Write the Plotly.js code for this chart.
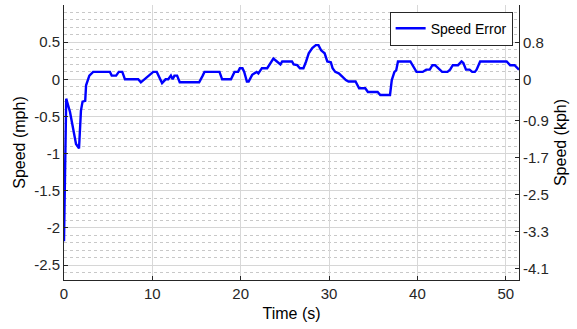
<!DOCTYPE html>
<html>
<head>
<meta charset="utf-8">
<script src="https://cdn.plot.ly/plotly-3.0.1.min.js"></script>
<style>html,body{margin:0;padding:0;background:#fff;}#chart{width:577px;height:329px;}</style>
</head>
<body>
<div id="chart"></div>
<script>
// Time (s)
const timeS = [0, 0.25, 0.68, 1.06, 1.36, 1.7, 1.92, 2.1, 2.4, 2.5, 2.87, 3.3,
  5.2, 5.4, 5.9, 6.2, 6.6, 6.9, 8.4, 8.7, 9.1, 9.6, 10.1, 10.5, 11.1, 11.5, 11.8,
  12.1, 12.3, 12.5, 12.8, 13.1, 15.3, 15.7, 15.9, 17.6, 17.9, 18.9, 19.3, 19.7,
  19.9, 20.2, 20.4, 20.7, 20.9, 21.3, 21.6, 21.8, 22.0, 22.2, 22.4, 23.0, 23.4,
  23.7, 24.1, 24.5, 24.7, 24.9, 25.8, 26.0, 26.4, 26.7, 27.1, 27.4, 27.7, 28.1,
  28.5, 28.8, 29.1, 29.5, 29.8, 30.2, 30.4, 30.7, 31.1, 31.5, 31.9, 32.2, 33.0,
  33.4, 34.1, 34.4, 35.5, 35.8, 36.9, 37.1, 37.4, 37.6, 37.8, 39.2, 39.6, 39.9,
  40.6, 41.0, 41.4, 41.7, 42.0, 42.5, 42.8, 43.4, 43.7, 44.0, 44.6, 45.0, 45.2,
  45.5, 45.9, 46.2, 46.5, 46.7, 47.1, 50.1, 50.5, 51.0, 51.5];
// Speed error (mph)
const speedErr = [-2.18, -0.26, -0.44, -0.68, -0.87, -0.93, -0.42, -0.30, -0.29, -0.08, 0.05, 0.10,
  0.10, 0.05, 0.05, 0.10, 0.10, 0.0, 0.0, -0.04, 0.0, 0.05, 0.10, 0.10, -0.05, 0.0, 0.0,
  0.05, 0.0, 0.05, 0.05, -0.04, -0.04, 0.05, 0.10, 0.10, 0.0, 0.0, 0.10, 0.10,
  0.15, 0.15, 0.10, -0.03, -0.03, 0.06, 0.08, 0.10, 0.08, 0.125, 0.15, 0.15, 0.215,
  0.28, 0.24, 0.20, 0.24, 0.24, 0.24, 0.20, 0.19, 0.15, 0.15, 0.24, 0.35, 0.42,
  0.46, 0.46, 0.39, 0.35, 0.24, 0.23, 0.15, 0.10, 0.08, 0.035, -0.01, -0.03, -0.03,
  -0.12, -0.12, -0.17, -0.17, -0.21, -0.21, -0.01, 0.10, 0.12, 0.24, 0.24, 0.17, 0.10,
  0.10, 0.13, 0.13, 0.19, 0.19, 0.13, 0.10, 0.10, 0.13, 0.19, 0.19, 0.24, 0.22,
  0.13, 0.13, 0.10, 0.10, 0.13, 0.24, 0.24, 0.19, 0.19, 0.13];

const xTicks = [0, 10, 20, 30, 40, 50];
const mphTicks = [-2.5, -2, -1.5, -1, -0.5, 0, 0.5];
const mphLabels = ['-2.5', '-2', '-1.5', '-1', '-0.5', '0', '0.5'];
const kphTicks = [-4.1, -3.3, -2.5, -1.7, -0.9, 0, 0.8];
const kphLabels = ['-4.1', '-3.3', '-2.5', '-1.7', '-0.9', '0', '0.8'];
const mphRange = [-2.7, 1.0];
const MPH_TO_KPH = 1.609344;

const axisColor = '#262626';
const fontFam = '"Liberation Sans", Arial, sans-serif';

const traces = [
  {
    x: timeS, y: speedErr, type: 'scatter', mode: 'lines', name: 'Speed Error',
    line: {color: '#0000ff', width: 2.4}, yaxis: 'y'
  },
  {
    x: [], y: [], type: 'scatter', mode: 'lines', yaxis: 'y2',
    showlegend: false, hoverinfo: 'skip'
  }
];

const layout = {
  width: 577, height: 329,
  margin: {l: 64, r: 58, t: 5, b: 49, pad: 0},
  paper_bgcolor: '#ffffff', plot_bgcolor: '#ffffff',
  font: {family: fontFam, color: axisColor, size: 15},
  showlegend: true,
  legend: {
    x: 0.986, xanchor: 'right', y: 0.976, yanchor: 'top',
    bgcolor: '#ffffff', bordercolor: axisColor, borderwidth: 1,
    font: {family: fontFam, size: 14, color: '#000000'},
    tracegroupgap: 0, itemwidth: 30
  },
  xaxis: {
    range: [0, 51.5], tickmode: 'array', tickvals: xTicks,
    ticks: 'inside', ticklen: 4, tickcolor: axisColor,
    showline: true, linecolor: axisColor, linewidth: 1, mirror: false,
    showgrid: true, gridcolor: '#d8d8d8', gridwidth: 1, zeroline: false,
    tickfont: {size: 15, color: axisColor},
    title: {text: 'Time (s)', font: {size: 16, color: '#000000'}, standoff: 6}
  },
  yaxis: {
    range: mphRange, tickmode: 'array', tickvals: mphTicks, ticktext: mphLabels,
    ticks: 'inside', ticklen: 4, tickcolor: axisColor,
    showline: true, linecolor: axisColor, linewidth: 1, mirror: false,
    showgrid: true, gridcolor: '#d6d6d6', gridwidth: 1, zeroline: false,
    minor: {dtick: 0.1, tick0: 0, showgrid: true, gridcolor: '#c8c8c8', griddash: 'dot', gridwidth: 1, ticks: ''},
    tickfont: {size: 15, color: axisColor},
    title: {text: 'Speed (mph)', font: {size: 16, color: '#000000'}, standoff: 4}
  },
  yaxis2: {
    overlaying: 'y', side: 'right',
    range: [mphRange[0] * MPH_TO_KPH, mphRange[1] * MPH_TO_KPH],
    tickmode: 'array', tickvals: kphTicks, ticktext: kphLabels,
    ticks: 'inside', ticklen: 4, tickcolor: axisColor,
    showline: true, linecolor: axisColor, linewidth: 1,
    showgrid: false, zeroline: false,
    tickfont: {size: 15, color: axisColor},
    title: {text: 'Speed (kph)', font: {size: 16, color: '#000000'}, standoff: 6}
  }
};

Plotly.newPlot('chart', traces, layout, {staticPlot: true, displayModeBar: false});
</script>
</body>
</html>
